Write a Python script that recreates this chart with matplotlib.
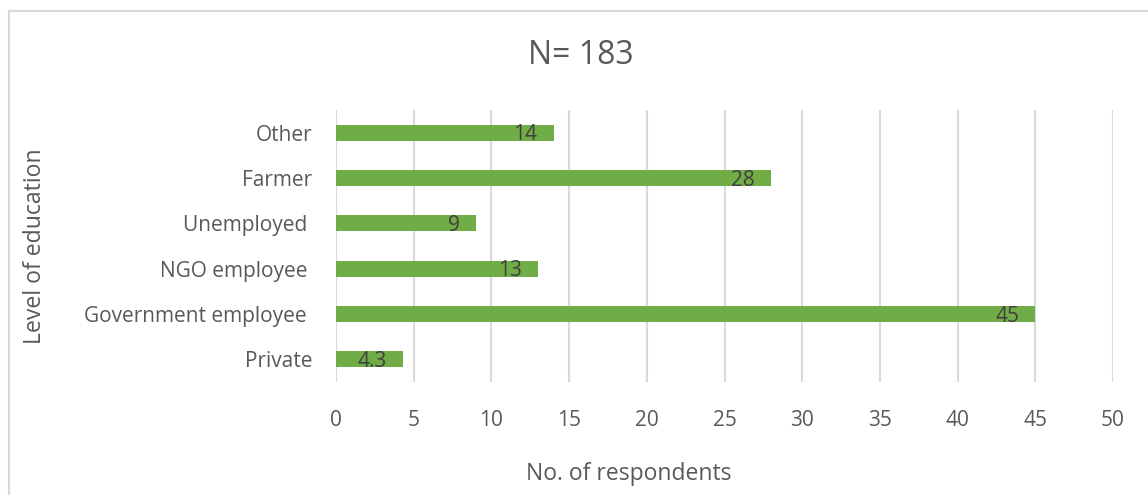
import matplotlib.pyplot as plt
from matplotlib.patches import Rectangle

plt.rcParams['font.family'] = ['Open Sans', 'DejaVu Sans']

categories = ["Private", "Government employee ", "NGO employee ", "Unemployed ", "Farmer", "Other"]
respondents = [4.3, 45, 13, 9, 28, 14]
value_labels = ["4.3", "45", "13", "9", "28", "14"]
x_ticks = [0, 5, 10, 15, 20, 25, 30, 35, 40, 45, 50]

green = "#70AD47"
grid_grey = "#D9D9D9"
text_grey = "#595959"

fig = plt.figure(figsize=(11.48, 4.95), dpi=100)
ax = fig.add_axes([336 / 1148, 1 - 382 / 495, (1113 - 336) / 1148, (382 - 110) / 495])

ypos = range(len(categories))
ax.barh(ypos, respondents, height=0.35, color=green, zorder=3)

for y, v, lab in zip(ypos, respondents, value_labels):
    ax.annotate(lab, (v, y), xytext=(-16, -2), textcoords="offset pixels",
                ha="right", va="center", fontsize=15, color="#404040", zorder=4)

ax.set_xlim(0, 50)
ax.set_ylim(-0.5, len(categories) - 0.5)
ax.set_xticks(x_ticks)
ax.set_yticks(list(ypos))
ax.set_yticklabels(categories)
ax.tick_params(axis="both", length=0, labelsize=15, labelcolor=text_grey)
ax.tick_params(axis="x", pad=20)
ax.tick_params(axis="y", pad=17)
ax.grid(axis="x", color=grid_grey, linewidth=1.5, zorder=0)
for s in ax.spines.values():
    s.set_visible(False)

fig.text(581 / 1148, 1 - 55 / 495, "N= 183", ha="center", va="center",
         fontsize=23, color=text_grey)
fig.text(629 / 1148, 1 - 474 / 495, "No. of respondents", ha="center", va="center",
         fontsize=16.5, color=text_grey)
fig.text(35 / 1148, 1 - 246 / 495, "Level of education", ha="center", va="center",
         rotation=90, fontsize=16.6, color=text_grey)

# chart frame, running off the right and bottom edges
fig.patches.append(Rectangle((9 / 1148, -0.05), 1.2, 1 - 11 / 495 + 0.05,
                             transform=fig.transFigure, fill=False,
                             edgecolor=grid_grey, linewidth=1.5))

fig.savefig("out.png", dpi=100)
